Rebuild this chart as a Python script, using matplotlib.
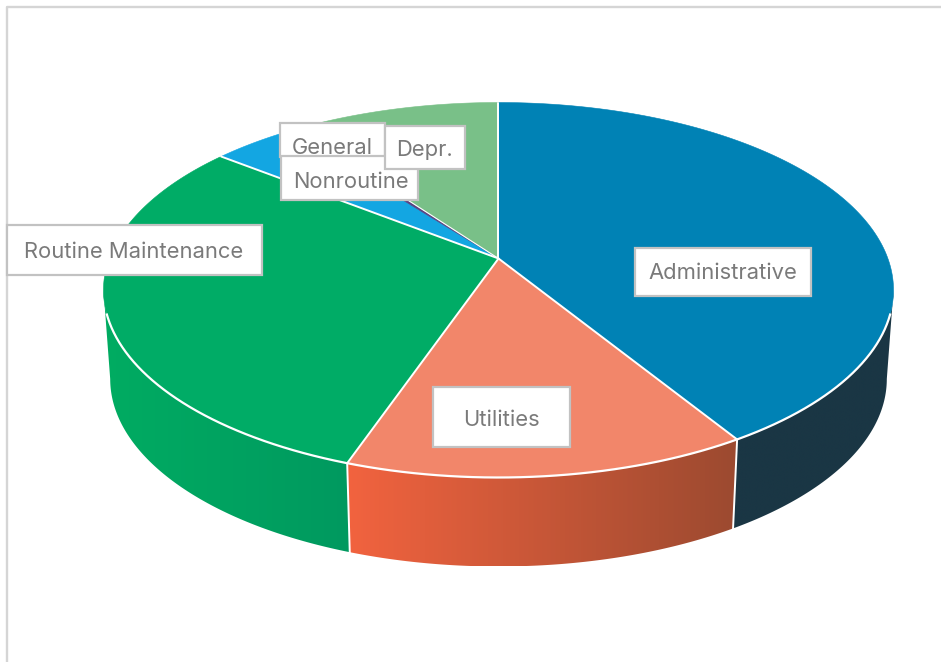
import numpy as np
import matplotlib
matplotlib.use("Agg")
import matplotlib.pyplot as plt
from matplotlib.patches import Rectangle, Polygon
from matplotlib.colors import to_rgb

# Expense shares, percent of total, clockwise from twelve o'clock
categories = ["Administrative", "Utilities", "Routine Maintenance", "General", "Nonroutine", "Depr."]
shares = [41.2, 14.1, 30.3, 4.0, 0.4, 10.0]

top_colors = ["#0082B5", "#F2866A", "#00AC66", "#13A6E2", "#5A4180", "#79C088"]
# Side wall shading: colour at the left and right ends of each slice's wall
wall_shades = [("#1A3644", "#1A3644"), ("#F2633F", "#9C4A30"), ("#00AC62", "#00995F"),
               ("#0E7FAE", "#0E7FAE"), ("#3F2D5A", "#3F2D5A"), ("#5C9468", "#5C9468")]
seam_widths = [1.4, 1.4, 1.4, 1.4, 0.0, 0.8]

# Label boxes in pixels: left, top, right, bottom (drawn in this stacking order)
label_boxes = {
    "Administrative": (635, 248, 811, 296),
    "Utilities": (433, 387, 570, 447),
    "Routine Maintenance": (7, 225, 262, 275),
    "General": (280, 123, 385, 157),
    "Nonroutine": (281, 156, 418, 200),
    "Depr.": (385, 126, 465, 169),
}
text_centres = {
    "Administrative": (723, 273),
    "Utilities": (501, 419.5),
    "Routine Maintenance": (134, 252.5),
    "General": (332.5, 148.5),
    "Nonroutine": (350.5, 181.5),
    "Depr.": (425, 150.5),
}

# Perspective mapping of the unit disc onto the page
CX, APEX_Y = 498.5, 258.5
A, B, K = 389.4, 182.2, 0.168
DEPTH, NARROW = 89.0, 0.983
RULE = "#FFFFFF"
# Angles where the disc's outline is widest on the page; walls show between them
WALL_FROM = 90.0 + np.degrees(np.arcsin(K))
WALL_TO = 360.0 - WALL_FROM


def rim(theta_deg):
    t = np.radians(theta_deg)
    u, v = np.sin(t), np.cos(t)
    d = 1 + K * v
    return CX + A * u / d, APEX_Y - B * v / d


def floor(theta_deg):
    x, y = rim(theta_deg)
    return CX + (x - CX) * NARROW, y + DEPTH


fig = plt.figure(figsize=(9.41, 6.62), dpi=100, facecolor="white")
ax = fig.add_axes([0, 0, 1, 1])

# Chart frame, only the top and left edges show
ax.plot([7, 7, 941], [662, 6.5, 6.5], color="#D5D5D5", lw=1.7, zorder=1)

edges = np.concatenate([[0], np.cumsum(shares)]) * 3.6

# Side walls on the near half of the disc, shaded left to right
for i in range(len(shares)):
    a0, a1 = max(edges[i], WALL_FROM), min(edges[i + 1], WALL_TO)
    if a1 <= a0:
        continue
    arc = np.linspace(a0, a1, 200)
    xt, yt = rim(arc)
    xf, yf = floor(arc)
    outline = np.column_stack([np.r_[xt, xf[::-1]], np.r_[yt, yf[::-1]]])
    wall = Polygon(outline, closed=True, facecolor="none", edgecolor="none", zorder=2)
    ax.add_patch(wall)
    x_left, x_right = outline[:, 0].min(), outline[:, 0].max()
    y_top, y_bottom = outline[:, 1].min(), outline[:, 1].max()
    left, right = (np.array(to_rgb(c)) for c in wall_shades[i])
    ramp = np.linspace(0, 1, 256)[None, :, None]
    ax.imshow(left + (right - left) * ramp, extent=(x_left, x_right, y_bottom, y_top),
              aspect="auto", interpolation="bilinear", clip_path=wall, zorder=2)

# Top faces
for i, col in enumerate(top_colors):
    arc = np.linspace(edges[i], edges[i + 1], 160)
    xs, ys = rim(arc)
    ax.fill(np.r_[CX, xs], np.r_[APEX_Y, ys], facecolor=col, edgecolor=col, lw=0.4, zorder=3)

# White rules: radial seams, front rim, and wall seams
for i in range(len(shares)):
    x, y = rim(edges[i])
    if seam_widths[i] > 0:
        ax.plot([CX, x], [APEX_Y, y], color=RULE, lw=seam_widths[i], zorder=4, solid_capstyle="round")
    if WALL_FROM < edges[i] < WALL_TO:
        fx, fy = floor(edges[i])
        ax.plot([x, fx], [y, fy], color=RULE, lw=1.4, zorder=4)
front = np.linspace(107, 253, 300)
ax.plot(*rim(front), color=RULE, lw=1.6, zorder=4)

# Slice name tags
for name in categories:
    x0, y0, x1, y1 = label_boxes[name]
    ax.add_patch(Rectangle((x0, y0), x1 - x0, y1 - y0, facecolor="white",
                           edgecolor="#C2C2C2", lw=1.6, zorder=5))
    tx, ty = text_centres[name]
    ax.text(tx, ty, name, ha="center", va="center", color="#7A7A7A",
            fontsize=15.8, family=["Inter", "DejaVu Sans"], zorder=6)

ax.set_xlim(0, 941)
ax.set_ylim(662, 0)
ax.axis("off")
fig.savefig("out.png", dpi=100)
